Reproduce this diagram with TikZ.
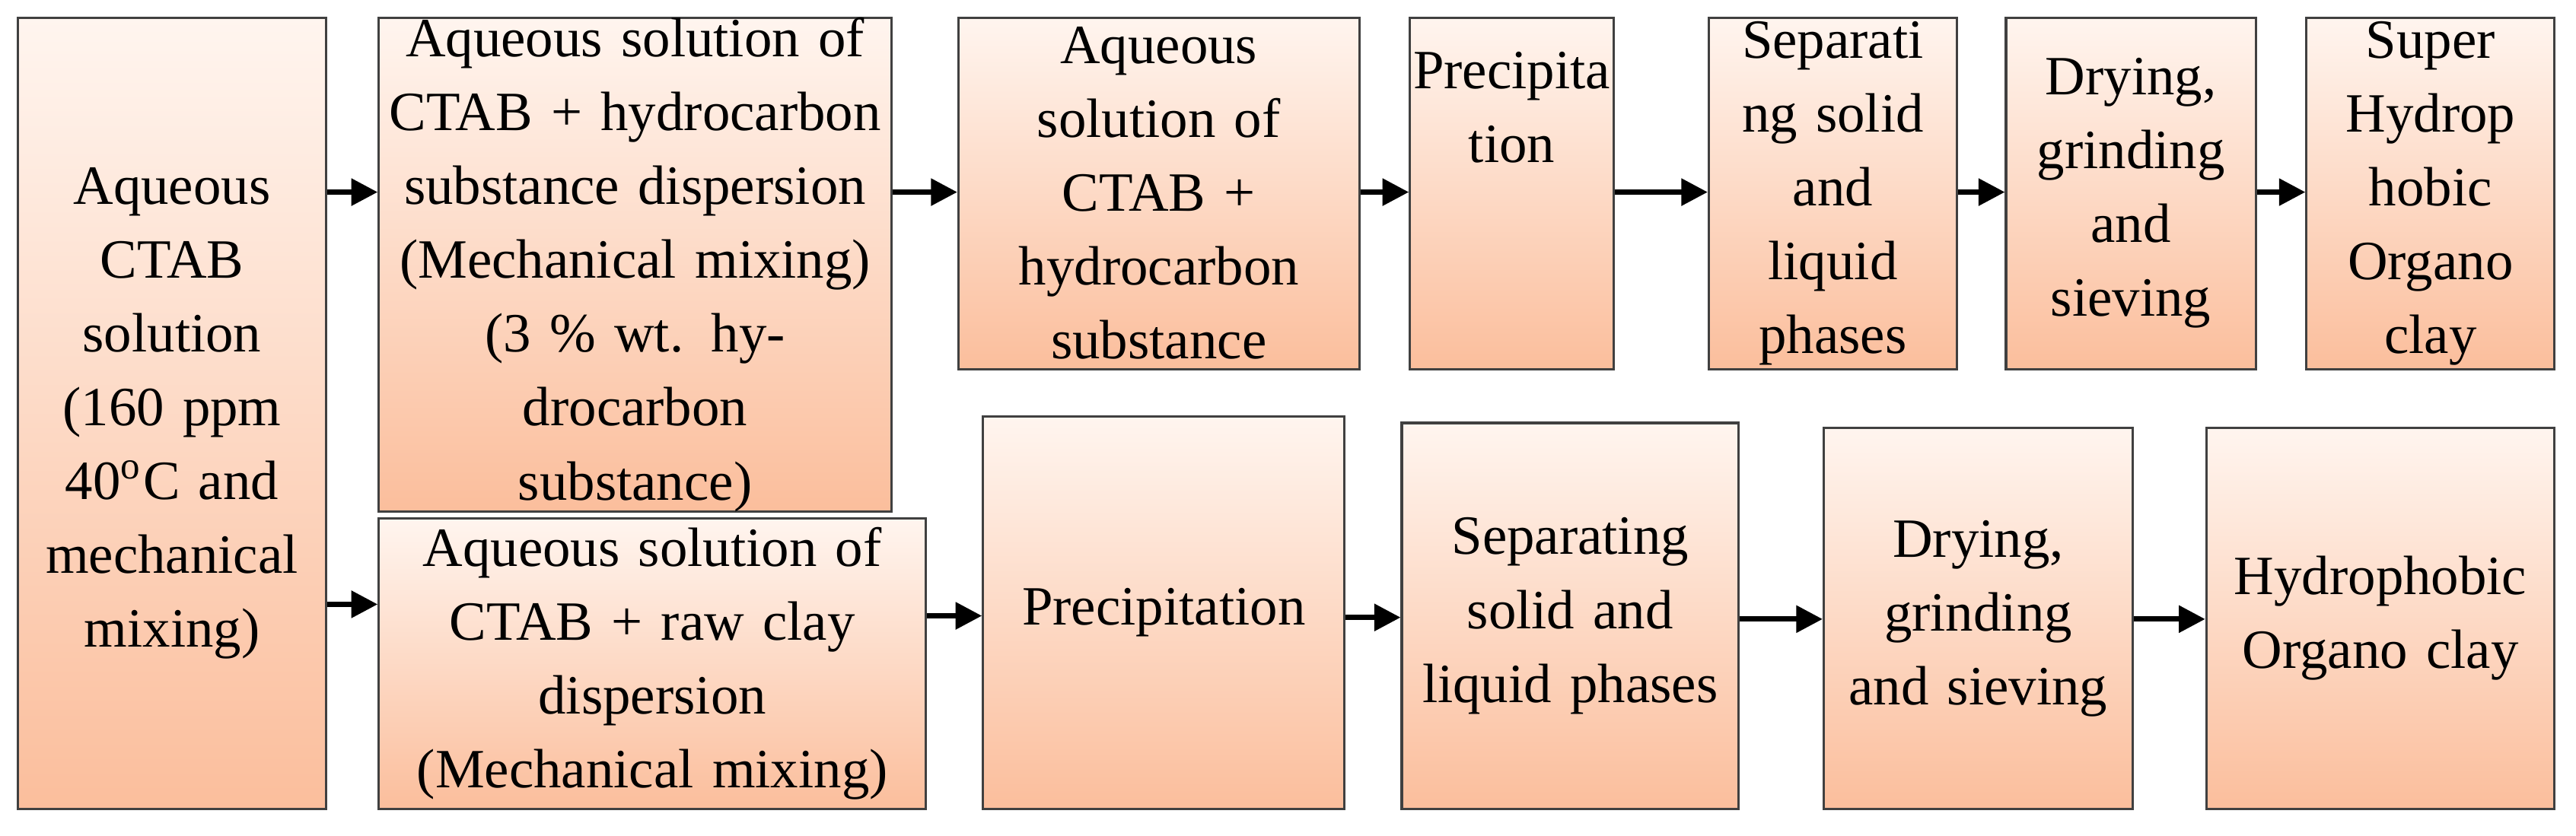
\documentclass[tikz,border=0pt]{standalone}
\usepackage{fontspec}
\setmainfont{Liberation Serif}
\usetikzlibrary{arrows.meta}
\definecolor{peachtop}{HTML}{FFF5EF}
\definecolor{peachlow}{HTML}{FBBE9C}
\tikzset{
  stage/.style={draw=black!75, line width=0.4pt, top color=peachtop, bottom color=peachlow,
    shading angle=0, align=center, inner sep=0pt, anchor=north west,
    font=\fontsize{9.6}{12.8}\selectfont},
  flow/.style={-{Triangle[length=1.6mm,width=1.6mm]}, line width=0.9pt}
}
% box from (x1,y1) to (x2,y2), in pixel units of the layout
\newcommand{\stagebox}[6]{%
  \node[stage, minimum width={(#4-#2)*0.1mm}, minimum height={(#5-#3)*0.1mm}, text width={(#4-#2-4)*0.1mm}]
    (#1) at (#2*0.01,-#3*0.01) {#6};}
\begin{document}
\begin{tikzpicture}
  \useasboundingbox (0,0) rectangle (15.68,-5.09);
  % first column
  \stagebox{ctab}{10}{10}{198}{492}{Aqueous\\CTAB\\solution\\(160 ppm\\40\textsuperscript{o}C and\\mechanical\\mixing)}
  % upper row
  \stagebox{hcdisp}{230}{10}{542}{297}{Aqueous solution of\\CTAB + hydrocarbon\\substance dispersion\\(Mechanical mixing)\\(3 \% wt. hydrocarbon\\substance)}
  \stagebox{hcsol}{583}{10}{827}{224}{Aqueous\\solution of\\CTAB +\\hydrocarbon\\substance}
  \stagebox{precA}{858}{10}{982}{224}{Precipita\\tion\\[6mm]\mbox{}}
  \stagebox{sepA}{1040}{10}{1191}{224}{Separati\\ng solid\\and\\liquid\\phases}
  \stagebox{dryA}{1221}{10}{1373}{224}{Drying,\\grinding\\and\\sieving}
  \stagebox{superclay}{1404}{10}{1555}{224}{Super\\Hydrop\\hobic\\Organo\\clay}
  % lower row
  \stagebox{claydisp}{230}{315}{563}{492}{Aqueous solution of\\CTAB + raw clay\\dispersion\\(Mechanical mixing)}
  \stagebox{precB}{598}{253}{818}{492}{Precipitation}
  \stagebox{sepB}{853}{257}{1058}{492}{Separating\\solid and\\liquid phases}
  \stagebox{dryB}{1110}{260}{1298}{492}{Drying,\\grinding\\and sieving}
  \stagebox{clay}{1343}{260}{1555}{492}{Hydrophobic\\Organo clay}
  % connectors
  \draw[flow] (ctab.east |- 0,-1.17) -- (hcdisp.west |- 0,-1.17);
  \draw[flow] (hcdisp.east |- 0,-1.17) -- (hcsol.west |- 0,-1.17);
  \draw[flow] (hcsol.east |- 0,-1.17) -- (precA.west |- 0,-1.17);
  \draw[flow] (precA.east |- 0,-1.17) -- (sepA.west |- 0,-1.17);
  \draw[flow] (sepA.east |- 0,-1.17) -- (dryA.west |- 0,-1.17);
  \draw[flow] (dryA.east |- 0,-1.17) -- (superclay.west |- 0,-1.17);
  \draw[flow] (ctab.east |- 0,-3.68) -- (claydisp.west |- 0,-3.68);
  \draw[flow] (claydisp.east |- 0,-3.75) -- (precB.west |- 0,-3.75);
  \draw[flow] (precB.east |- 0,-3.76) -- (sepB.west |- 0,-3.76);
  \draw[flow] (sepB.east |- 0,-3.77) -- (dryB.west |- 0,-3.77);
  \draw[flow] (dryB.east |- 0,-3.77) -- (clay.west |- 0,-3.77);
\end{tikzpicture}
\end{document}
